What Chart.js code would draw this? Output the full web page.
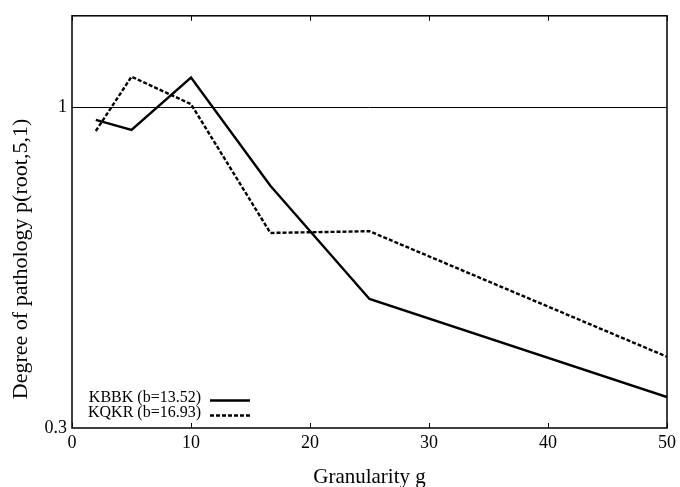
<!DOCTYPE html>
<html>
<head>
<meta charset="utf-8">
<script src="https://cdn.jsdelivr.net/npm/chart.js@4/dist/chart.umd.min.js"></script>
<style>
  html, body { margin: 0; padding: 0; background: #fff; }
</style>
</head>
<body>
<canvas id="c" width="680" height="487"></canvas>
<script>
// Granularity values and the degree of pathology measured for each ending
const granularity = [2, 5, 10, 16.67, 25, 50];
const kbbk = [0.954, 0.919, 1.118, 0.745, 0.487, 0.337];
const kqkr = [0.915, 1.122, 1.012, 0.624, 0.628, 0.392];
const seriesLabels = ['KBBK (b=13.52)', 'KQKR (b=16.93)'];
const xTicks = [0, 10, 20, 30, 40, 50];
const yTicks = [0.3, 1];
const xTitle = 'Granularity g';
const yTitle = 'Degree of pathology p(root,5,1)';

const SERIF = '"Liberation Serif", "Times New Roman", serif';

const toPoints = ys => granularity.map((g, i) => ({ x: g, y: ys[i] }));

// Frame, inward tick marks, the y title and a text-then-sample legend
const framePlugin = {
  id: 'frameAndLegend',
  afterDatasetsDraw(chart) {
    const { ctx, chartArea: a, scales: { x } } = chart;
    ctx.save();
    ctx.strokeStyle = '#000';
    ctx.lineWidth = 1.5;
    ctx.setLineDash([]);
    ctx.strokeRect(a.left, a.top, a.right - a.left, a.bottom - a.top);
    ctx.lineWidth = 1;
    x.ticks.forEach(t => {
      const px = Math.round(x.getPixelForValue(t.value)) + 0.5;
      ctx.beginPath();
      ctx.moveTo(px, a.bottom); ctx.lineTo(px, a.bottom - 5);
      ctx.moveTo(px, a.top); ctx.lineTo(px, a.top + 5);
      ctx.stroke();
    });

    ctx.fillStyle = '#000';

    // rotated y-axis title, sitting a little below the middle of the plot
    ctx.save();
    ctx.font = '22px ' + SERIF;
    ctx.textAlign = 'center';
    ctx.textBaseline = 'middle';
    ctx.translate(21, 259);
    ctx.rotate(-Math.PI / 2);
    ctx.fillText(yTitle, 0, 0);
    ctx.restore();

    ctx.font = '16px ' + SERIF;
    ctx.textAlign = 'right';
    ctx.textBaseline = 'middle';
    const textRight = a.left + 129;
    chart.data.datasets.forEach((ds, i) => {
      const y = a.bottom - 30 + i * 15;
      ctx.fillText(ds.label, textRight, y);
      ctx.beginPath();
      ctx.lineWidth = ds.borderWidth;
      ctx.setLineDash(ds.borderDash || []);
      ctx.moveTo(textRight + 9, y + 2.5);
      ctx.lineTo(textRight + 49, y + 2.5);
      ctx.stroke();
    });
    ctx.restore();
  }
};

new Chart(document.getElementById('c'), {
  type: 'line',
  data: {
    datasets: [
      {
        label: seriesLabels[0],
        data: toPoints(kbbk),
        borderColor: '#000',
        borderWidth: 2.4,
        pointRadius: 0,
        tension: 0,
        fill: false
      },
      {
        label: seriesLabels[1],
        data: toPoints(kqkr),
        borderColor: '#000',
        borderWidth: 2.4,
        borderDash: [4, 2],
        pointRadius: 0,
        tension: 0,
        fill: false
      }
    ]
  },
  options: {
    responsive: false,
    animation: false,
    devicePixelRatio: 1,
    layout: { padding: { top: 11, right: 12, left: 0, bottom: 0 } },
    plugins: {
      legend: { display: false },
      tooltip: { enabled: false }
    },
    scales: {
      x: {
        type: 'linear',
        min: 0,
        max: 50,
        afterBuildTicks: s => { s.ticks = xTicks.map(v => ({ value: v })); },
        afterFit: s => { s.height = 59; },
        grid: { display: false, drawTicks: false },
        border: { display: false },
        ticks: {
          color: '#000',
          font: { family: SERIF, size: 18 },
          padding: 4,
          maxRotation: 0
        },
        title: {
          display: true,
          text: xTitle,
          color: '#000',
          font: { family: SERIF, size: 21, lineHeight: 1 },
          padding: { top: 0, bottom: -1 }
        }
      },
      y: {
        type: 'logarithmic',
        min: 0.3,
        max: 1.41,
        afterBuildTicks: s => { s.ticks = yTicks.map(v => ({ value: v })); },
        afterFit: s => { s.width = 72; },
        grid: {
          drawTicks: false,
          lineWidth: 1,
          color: c => (c.tick && c.tick.value === 1 ? '#000' : 'rgba(0,0,0,0)')
        },
        border: { display: false },
        ticks: {
          color: '#000',
          font: { family: SERIF, size: 18 },
          padding: 5,
          callback: v => String(v)
        },
        title: { display: false }
      }
    }
  },
  plugins: [framePlugin]
});
</script>
</body>
</html>
